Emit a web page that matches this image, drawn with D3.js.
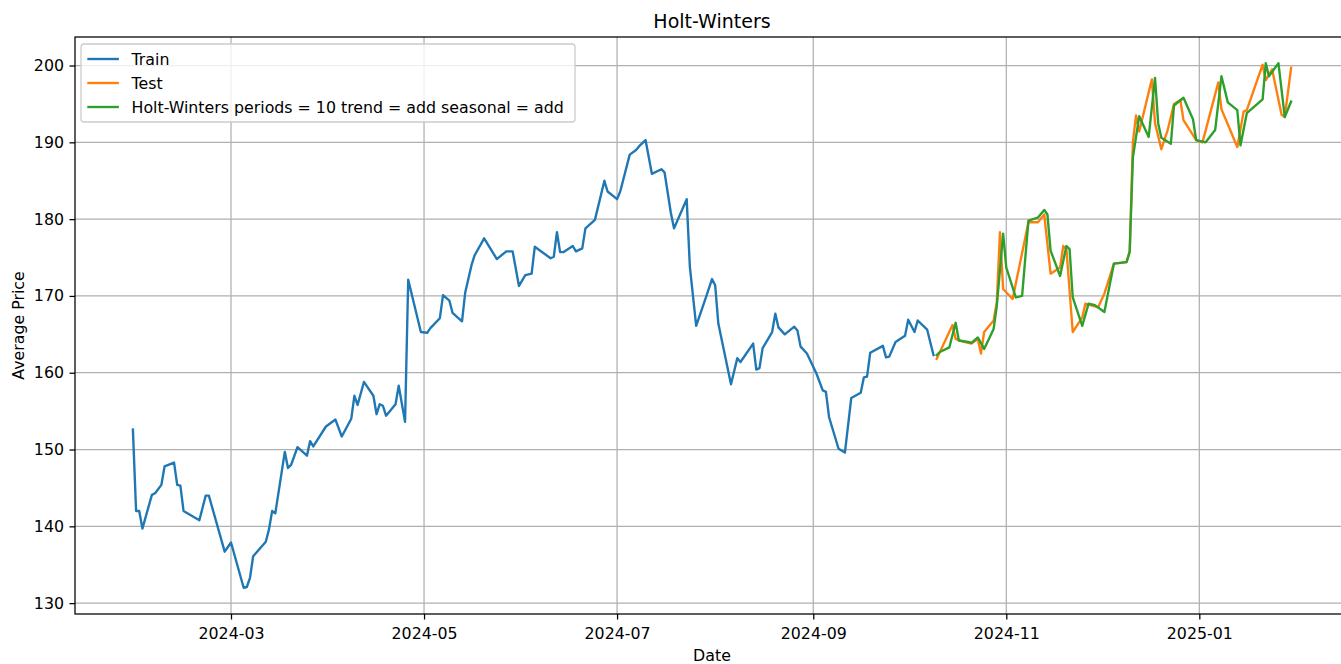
<!DOCTYPE html>
<html>
<head>
<meta charset="utf-8">
<script src="https://cdn.jsdelivr.net/npm/d3@7"></script>
<style>
  html, body { margin: 0; padding: 0; background: #fff; }
  svg { display: block; }
  text { font-family: "DejaVu Sans", sans-serif; fill: #000; }
</style>
</head>
<body>
<svg id="chart" width="1341" height="664"></svg>
<script>
// ---------------- DATA ----------------
const trainDates = [
  "2024-01-30","2024-01-31","2024-02-01","2024-02-02","2024-02-05","2024-02-06","2024-02-08","2024-02-09",
  "2024-02-12","2024-02-13","2024-02-14","2024-02-15","2024-02-20","2024-02-22","2024-02-23","2024-02-28",
  "2024-03-01","2024-03-05","2024-03-06","2024-03-07","2024-03-08","2024-03-12","2024-03-13","2024-03-14",
  "2024-03-15","2024-03-18","2024-03-19","2024-03-20","2024-03-22","2024-03-25","2024-03-26","2024-03-27",
  "2024-03-31","2024-04-03","2024-04-05","2024-04-08","2024-04-09","2024-04-10","2024-04-12","2024-04-15",
  "2024-04-16","2024-04-17","2024-04-18","2024-04-19","2024-04-22","2024-04-23","2024-04-25","2024-04-26",
  "2024-04-30","2024-05-02","2024-05-03","2024-05-06","2024-05-07","2024-05-09","2024-05-10","2024-05-13",
  "2024-05-14","2024-05-16","2024-05-17","2024-05-20","2024-05-24","2024-05-27","2024-05-29","2024-05-31",
  "2024-06-02","2024-06-04","2024-06-05","2024-06-10","2024-06-11","2024-06-12","2024-06-13","2024-06-14",
  "2024-06-17","2024-06-18","2024-06-20","2024-06-21","2024-06-24","2024-06-27","2024-06-28","2024-07-01",
  "2024-07-02","2024-07-05","2024-07-07","2024-07-08","2024-07-10","2024-07-12","2024-07-15","2024-07-16",
  "2024-07-18","2024-07-19","2024-07-23","2024-07-24","2024-07-26","2024-07-29","2024-07-31","2024-08-01",
  "2024-08-02","2024-08-06","2024-08-08","2024-08-09","2024-08-13","2024-08-14","2024-08-15","2024-08-16",
  "2024-08-19","2024-08-20","2024-08-21","2024-08-23","2024-08-26","2024-08-27","2024-08-28","2024-08-30",
  "2024-09-02","2024-09-04","2024-09-05","2024-09-06","2024-09-09","2024-09-11","2024-09-13","2024-09-16",
  "2024-09-17","2024-09-18","2024-09-19","2024-09-23","2024-09-24","2024-09-25","2024-09-27","2024-09-30",
  "2024-10-01","2024-10-03","2024-10-04","2024-10-07","2024-10-09"
];
const trainValues = [
  152.6,142.0,142.0,139.7,144.1,144.3,145.4,147.8,
  148.3,145.4,145.3,142.0,140.8,144.0,144.0,136.7,
  137.9,132.0,132.1,133.3,136.1,138.0,139.6,142.0,
  141.7,149.7,147.6,148.0,150.3,149.2,151.1,150.4,
  153.0,153.9,151.7,154.0,157.0,155.8,158.8,157.0,
  154.6,155.9,155.7,154.4,155.9,158.3,153.6,172.1,
  165.3,165.2,165.8,167.1,170.1,169.4,167.8,166.7,
  170.4,174.0,175.3,177.5,174.8,175.8,175.8,171.3,
  172.7,172.9,176.4,174.9,175.1,178.3,175.7,175.7,
  176.5,175.8,176.2,178.8,179.9,185.0,183.6,182.6,
  183.6,188.4,189.0,189.5,190.3,185.9,186.5,186.1,
  180.8,178.8,182.6,173.8,166.1,169.7,172.2,171.4,
  166.4,158.5,161.9,161.4,163.8,160.4,160.6,163.2,
  165.3,167.7,165.9,165.0,166.0,165.5,163.4,162.5,
  159.9,157.7,157.5,154.2,150.1,149.6,156.7,157.4,
  159.4,159.5,162.6,163.5,162.0,162.1,164.0,164.8,
  166.9,165.3,166.8,165.6,162.3
];

const testDates = [
  "2024-10-10","2024-10-15","2024-10-16","2024-10-18","2024-10-21","2024-10-23","2024-10-24","2024-10-25",
  "2024-10-28","2024-10-29","2024-10-30","2024-10-31","2024-11-03","2024-11-08","2024-11-11","2024-11-13",
  "2024-11-15","2024-11-18","2024-11-19","2024-11-20","2024-11-22","2024-11-25","2024-11-26","2024-11-30",
  "2024-12-02","2024-12-05","2024-12-09","2024-12-10","2024-12-11","2024-12-12","2024-12-13","2024-12-17",
  "2024-12-18","2024-12-20","2024-12-22","2024-12-24","2024-12-26","2024-12-27","2024-12-31","2025-01-02",
  "2025-01-07","2025-01-08","2025-01-13","2025-01-15","2025-01-16","2025-01-21","2025-01-22","2025-01-24",
  "2025-01-27","2025-01-28","2025-01-30"
];
const testValues = [
  161.8,166.2,164.4,164.1,163.8,164.4,162.5,165.3,
  166.8,169.2,178.3,170.9,169.6,179.6,179.6,180.6,
  172.9,173.7,176.5,176.1,165.3,167.2,169.0,168.5,
  170.3,174.2,174.4,175.7,190.0,193.5,191.4,198.2,
  192.5,189.1,191.6,195.0,195.5,192.9,190.3,190.0,
  197.8,194.3,189.4,194.0,194.2,200.1,198.1,199.5,
  193.6,193.3,199.7
];

const hwDates = [
  "2024-10-10","2024-10-11","2024-10-14","2024-10-16","2024-10-17","2024-10-20","2024-10-21","2024-10-23",
  "2024-10-25","2024-10-28","2024-10-29","2024-10-31","2024-11-01","2024-11-04","2024-11-06","2024-11-08",
  "2024-11-11","2024-11-13","2024-11-14","2024-11-15","2024-11-18","2024-11-20","2024-11-21","2024-11-22",
  "2024-11-25","2024-11-27","2024-11-29","2024-12-02","2024-12-05","2024-12-09","2024-12-10","2024-12-11",
  "2024-12-13","2024-12-16","2024-12-18","2024-12-19","2024-12-20","2024-12-23","2024-12-24","2024-12-27",
  "2024-12-30","2024-12-31","2025-01-03","2025-01-06","2025-01-08","2025-01-10","2025-01-13","2025-01-14",
  "2025-01-16","2025-01-21","2025-01-22","2025-01-23","2025-01-26","2025-01-28","2025-01-30"
];
const hwValues = [
  162.3,162.7,163.3,166.5,164.2,164.0,163.9,164.6,
  163.1,165.7,168.7,178.1,173.7,169.8,170.0,179.8,
  180.2,181.2,180.6,175.9,172.6,176.5,176.1,169.8,
  166.1,169.0,168.8,167.9,174.2,174.4,175.8,188.0,
  193.4,190.7,198.4,192.5,190.6,189.8,194.8,195.8,
  193.0,190.3,190.0,191.6,198.6,195.2,194.2,189.6,
  193.8,195.6,200.3,198.6,200.3,193.3,195.3
];

const yTickValues = [130, 140, 150, 160, 170, 180, 190, 200];
const seriesNames = ["Train", "Test", "Holt-Winters periods = 10 trend = add seasonal = add"];
const seriesColors = ["#1f77b4", "#ff7f0e", "#2ca02c"];
const chartTitle = "Holt-Winters";
const xLabel = "Date";
const yLabel = "Average Price";

// ---------------- CHART ----------------
const parse = d3.utcParse("%Y-%m-%d");
const series = [
  trainDates.map((d, i) => ({ date: parse(d), value: trainValues[i] })),
  testDates.map((d, i) => ({ date: parse(d), value: testValues[i] })),
  hwDates.map((d, i) => ({ date: parse(d), value: hwValues[i] }))
];

const svg = d3.select("#chart");
const margin = { left: 75, top: 37, right: 1349, bottom: 614 };
const FS = 15.8;     // tick / label font size
const LW = 1.26;     // spine / grid width

const allPts = series.flat();
const [dMin, dMax] = d3.extent(allPts, d => d.date);
const dPad = (dMax - dMin) * 0.05;
const [vMin, vMax] = d3.extent(allPts, d => d.value);
const vPad = (vMax - vMin) * 0.05;

const x = d3.scaleUtc()
  .domain([new Date(+dMin - dPad), new Date(+dMax + dPad)])
  .range([margin.left, margin.right]);
const y = d3.scaleLinear()
  .domain([vMin - vPad, vMax + vPad])
  .range([margin.bottom, margin.top]);

const xTicks = x.ticks(d3.utcMonth.every(2));
const fmt = d3.utcFormat("%Y-%m");

// grid
const grid = svg.append("g");
grid.selectAll("line.gx").data(xTicks).enter().append("line")
  .attr("x1", d => x(d)).attr("x2", d => x(d))
  .attr("y1", margin.top).attr("y2", margin.bottom)
  .attr("stroke", "#b0b0b0").attr("stroke-width", LW);
grid.selectAll("line.gy").data(yTickValues).enter().append("line")
  .attr("x1", margin.left).attr("x2", margin.right)
  .attr("y1", d => y(d)).attr("y2", d => y(d))
  .attr("stroke", "#b0b0b0").attr("stroke-width", LW);

// clip
svg.append("clipPath").attr("id", "clip").append("rect")
  .attr("x", margin.left).attr("y", margin.top)
  .attr("width", margin.right - margin.left).attr("height", margin.bottom - margin.top);

const line = d3.line().x(d => x(d.date)).y(d => y(d.value));
const lines = svg.append("g").attr("clip-path", "url(#clip)");
series.forEach((s, i) => {
  lines.append("path").datum(s)
    .attr("d", line)
    .attr("fill", "none")
    .attr("stroke", seriesColors[i])
    .attr("stroke-width", 2.37)
    .attr("stroke-linejoin", "round")
    .attr("stroke-linecap", "square");
});

// spines
svg.append("rect")
  .attr("x", margin.left).attr("y", margin.top)
  .attr("width", margin.right - margin.left).attr("height", margin.bottom - margin.top)
  .attr("fill", "none").attr("stroke", "#000").attr("stroke-width", LW);

// axes
const xAxis = d3.axisBottom(x).tickValues(xTicks).tickFormat(fmt).tickSize(5.5).tickPadding(5.5);
const gx = svg.append("g").attr("transform", `translate(0,${margin.bottom})`).call(xAxis);
gx.select(".domain").remove();
gx.selectAll(".tick line").attr("stroke", "#000").attr("stroke-width", LW);
gx.selectAll(".tick text").attr("font-size", FS).attr("font-family", "DejaVu Sans").attr("fill", "#000").attr("dy", "0.9em");

const yAxis = d3.axisLeft(y).tickValues(yTickValues).tickFormat(d3.format("d")).tickSize(5.5).tickPadding(5.5);
const gy = svg.append("g").attr("transform", `translate(${margin.left},0)`).call(yAxis);
gy.select(".domain").remove();
gy.selectAll(".tick line").attr("stroke", "#000").attr("stroke-width", LW);
gy.selectAll(".tick text").attr("font-size", FS).attr("font-family", "DejaVu Sans").attr("fill", "#000");

// title & labels
svg.append("text").attr("x", (margin.left + margin.right) / 2).attr("y", 27.5)
  .attr("text-anchor", "middle").attr("font-size", 19).text(chartTitle);
svg.append("text").attr("x", (margin.left + margin.right) / 2).attr("y", 661)
  .attr("text-anchor", "middle").attr("font-size", FS).text(xLabel);
svg.append("text")
  .attr("transform", `translate(24,${(margin.top + margin.bottom) / 2}) rotate(-90)`)
  .attr("text-anchor", "middle").attr("font-size", FS).text(yLabel);

// legend
const leg = svg.append("g");
const lx = 81, ly = 44, pad = 6.3, handleLen = 31.6, textGap = 12.6, rowH = 24;
const box = leg.append("rect").attr("x", lx).attr("y", ly).attr("rx", 3).attr("ry", 3)
  .attr("fill", "#fff").attr("fill-opacity", 0.8).attr("stroke", "#cccccc").attr("stroke-width", LW);
let maxW = 0;
seriesNames.forEach((name, i) => {
  const cy = ly + 15 + i * rowH;
  leg.append("line").attr("x1", lx + pad).attr("x2", lx + pad + handleLen)
    .attr("y1", cy).attr("y2", cy).attr("stroke", seriesColors[i]).attr("stroke-width", 2.37);
  const t = leg.append("text").attr("x", lx + pad + handleLen + textGap).attr("y", cy)
    .attr("dy", "0.36em").attr("font-size", FS).text(name);
  maxW = Math.max(maxW, t.node().getComputedTextLength());
});
box.attr("width", pad + handleLen + textGap + maxW + pad + 5).attr("height", 15 + 2 * rowH + 15);
</script>
</body>
</html>
